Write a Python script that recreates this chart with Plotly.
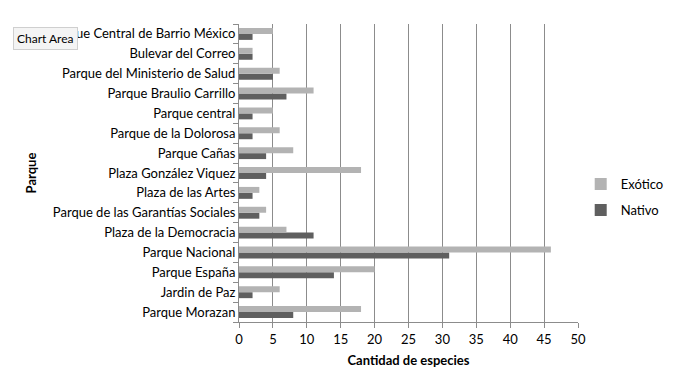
import plotly.graph_objects as go

# Categories listed from top to bottom as in the chart
parques = [
    "Parque Central de Barrio México",
    "Bulevar del Correo",
    "Parque del Ministerio de Salud",
    "Parque Braulio Carrillo",
    "Parque central",
    "Parque de la Dolorosa",
    "Parque Cañas",
    "Plaza González Viquez",
    "Plaza de las Artes",
    "Parque de las Garantías Sociales",
    "Plaza de la Democracia",
    "Parque Nacional",
    "Parque España",
    "Jardin de Paz",
    "Parque Morazan",
]
exotico = [5, 2, 6, 11, 5, 6, 8, 18, 3, 4, 7, 46, 20, 6, 18]
nativo = [2, 2, 5, 7, 2, 2, 4, 4, 2, 3, 11, 31, 14, 2, 8]
x_ticks = [0, 5, 10, 15, 20, 25, 30, 35, 40, 45, 50]

# bottom-to-top order for plotly
cats = parques[::-1]
ex = exotico[::-1]
na = nativo[::-1]

FONT = "Lato, Carlito, 'Open Sans', sans-serif"

fig = go.Figure()
fig.add_trace(go.Bar(y=cats, x=na, orientation="h", name="Nativo", legend="legend2",
                     marker=dict(color="#5f5f5f", line=dict(width=0))))
fig.add_trace(go.Bar(y=cats, x=ex, orientation="h", name="Exótico", legend="legend",
                     marker=dict(color="#b3b3b3", line=dict(width=0))))

leg_common = dict(xanchor="left", yanchor="middle", font=dict(size=13), itemwidth=30,
                  bgcolor="rgba(0,0,0,0)")

# page has an 8px body margin, so the figure is 8px smaller and shifted
fig.update_layout(
    width=690, height=378,
    margin=dict(l=231, r=120, t=16, b=64, autoexpand=False),
    paper_bgcolor="white", plot_bgcolor="white",
    barmode="group", bargap=0.4, bargroupgap=0,
    font=dict(family=FONT, size=13, color="black"),
    showlegend=True,
    legend=dict(x=1.008, y=0.463, **leg_common),
    legend2=dict(x=1.008, y=0.376, **leg_common),
    xaxis=dict(range=[0, 50], tickvals=x_ticks, ticktext=[str(v) for v in x_ticks],
               automargin=False,
               showgrid=True, gridcolor="#8c8c8c", gridwidth=1,
               showline=True, linecolor="#8c8c8c", linewidth=1,
               ticks="outside", ticklen=5, tickcolor="#8c8c8c",
               zeroline=False,
               title=dict(text="<b>Cantidad de especies</b>", font=dict(size=13), standoff=10)),
    yaxis=dict(showgrid=False, showline=True, linecolor="#8c8c8c", linewidth=1,
               automargin=False,
               ticks="outside", ticklen=5, tickcolor="#8c8c8c", tickson="boundaries",
               title=dict(text="<b>Parque</b>", font=dict(size=13), standoff=10)),
)

fig.add_annotation(text="Chart Area", xref="paper", yref="paper",
                   x=-0.668, y=0.99, xanchor="left", yanchor="top",
                   showarrow=False, font=dict(size=12, color="black"),
                   bgcolor="#f4f4f4", bordercolor="#cfcfcf", borderwidth=1, borderpad=3)

fig.write_html("out.html")
